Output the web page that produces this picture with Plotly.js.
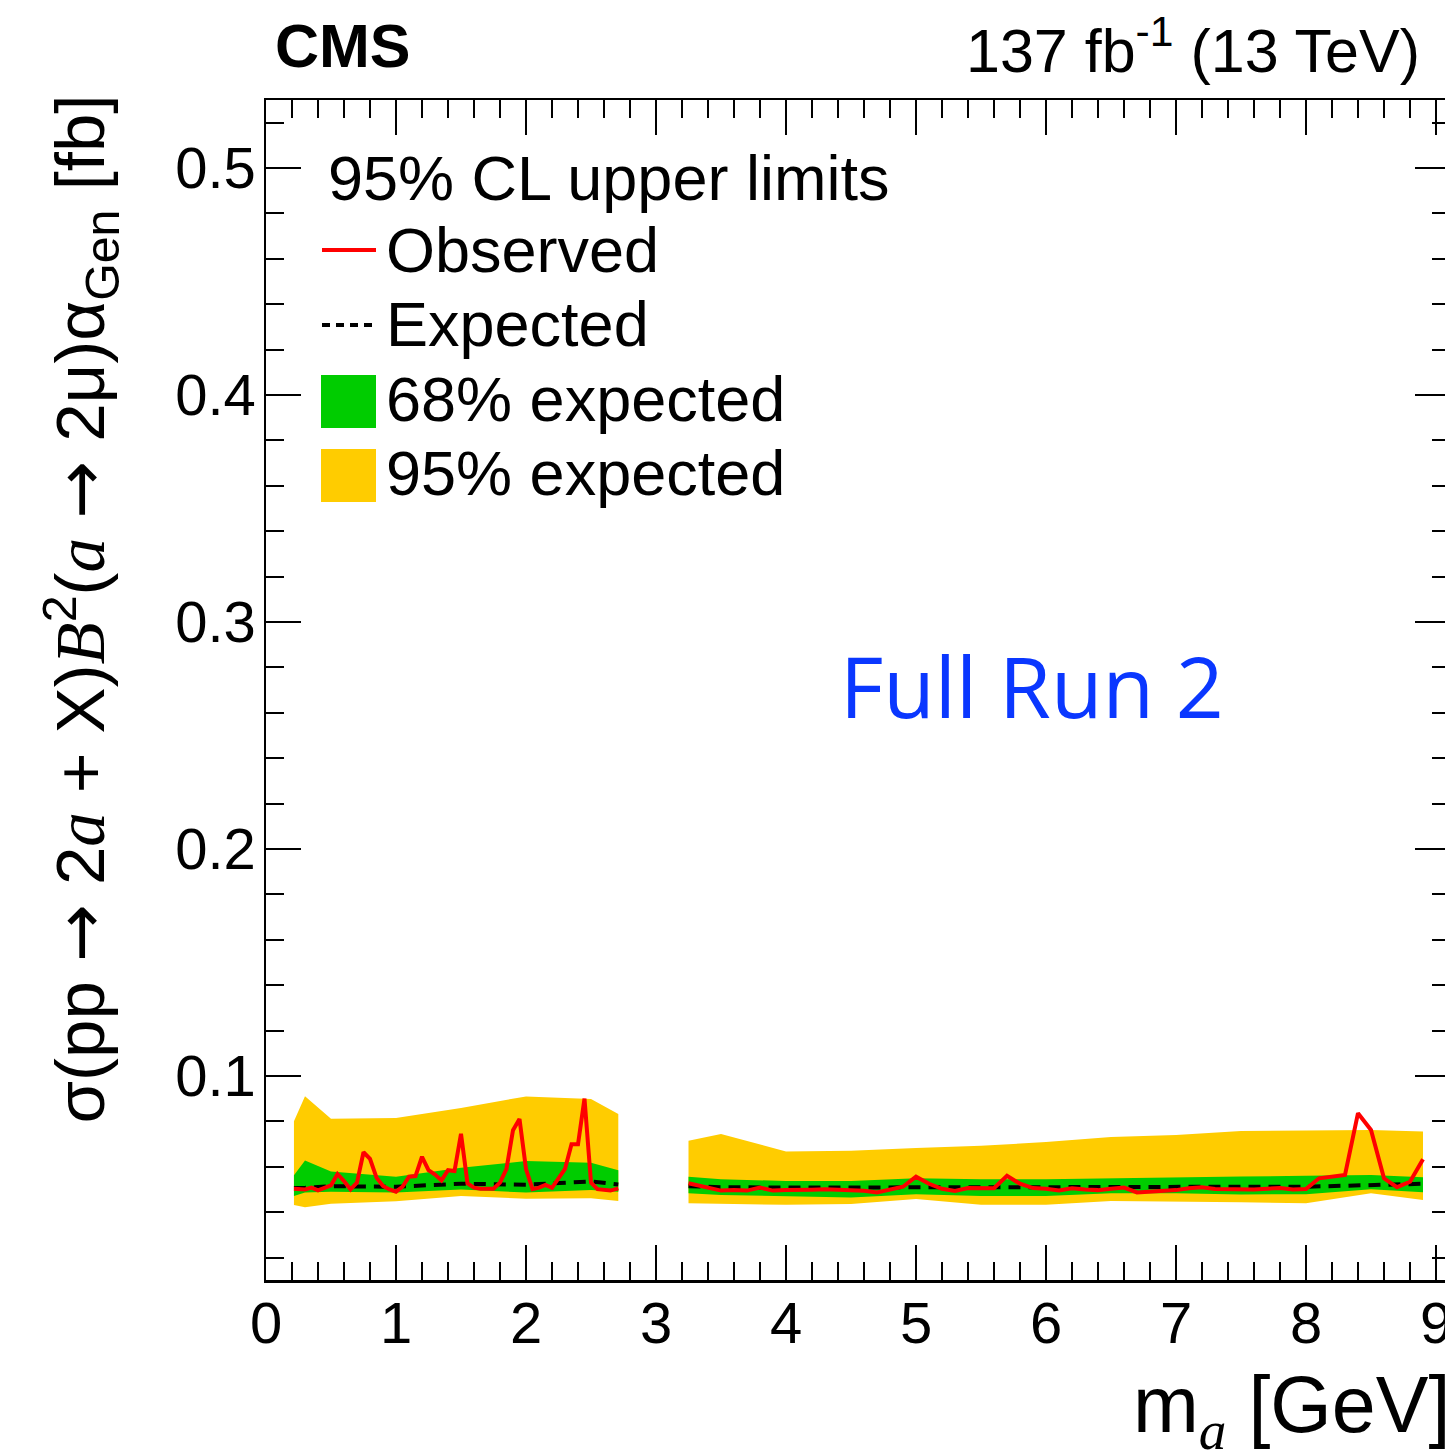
<!DOCTYPE html>
<html>
<head>
<meta charset="utf-8">
<script src="https://cdn.plot.ly/plotly-3.0.1.min.js"></script>
<style>
html,body{margin:0;padding:0;overflow:hidden;background:#fff;}
#chart{width:1460px;height:1452px;}
</style>
</head>
<body>
<div id="chart"></div>
<script>
// ---------- data ----------
// low-mass region: band vertices
const bandMass1 = [0.215, 0.3, 0.5, 1.0, 1.5, 2.0, 2.5, 2.71];
const lo95_1 = [0.0431, 0.0422, 0.0437, 0.0448, 0.0471, 0.0459, 0.0461, 0.0449];
const lo68_1 = [0.0471, 0.0486, 0.0490, 0.0486, 0.0500, 0.0486, 0.0497, 0.0490];
const hi68_1 = [0.0562, 0.0627, 0.0579, 0.0556, 0.0596, 0.0625, 0.0618, 0.0585];
const hi95_1 = [0.0800, 0.0911, 0.0812, 0.0815, 0.0859, 0.0910, 0.0898, 0.0832];
const exp1   = [0.0506, 0.0507, 0.0514, 0.0512, 0.0525, 0.0521, 0.0535, 0.0522];

// high-mass region: band vertices
const bandMass2 = [3.25, 3.5, 4.0, 4.5, 5.0, 5.5, 6.0, 6.5, 7.0, 7.5, 8.0, 8.5, 8.9];
const lo95_2 = [0.0439, 0.0435, 0.0432, 0.0436, 0.0458, 0.0432, 0.0432, 0.0449, 0.0446, 0.0444, 0.0439, 0.0483, 0.0454];
const lo68_2 = [0.0483, 0.0476, 0.0471, 0.0464, 0.0479, 0.0471, 0.0471, 0.0483, 0.0483, 0.0478, 0.0479, 0.0501, 0.0488];
const hi68_2 = [0.0556, 0.0545, 0.0537, 0.0537, 0.0549, 0.0545, 0.0545, 0.0549, 0.0556, 0.0557, 0.0560, 0.0564, 0.0554];
const hi95_2 = [0.0715, 0.0744, 0.0667, 0.0670, 0.0683, 0.0692, 0.0709, 0.0731, 0.0740, 0.0758, 0.0760, 0.0762, 0.0755];
const exp2   = [0.0514, 0.0510, 0.0508, 0.0510, 0.0510, 0.0510, 0.0510, 0.0512, 0.0510, 0.0512, 0.0512, 0.0520, 0.0525];

// observed limits
const obsMass1 = [0.215,0.3,0.35,0.4,0.5,0.55,0.6,0.65,0.7,0.75,0.8,0.85,0.9,0.95,1.0,1.05,1.1,1.15,1.2,1.25,1.3,1.35,1.4,1.45,1.5,1.55,1.6,1.65,1.7,1.75,1.8,1.85,1.9,1.95,2.0,2.05,2.1,2.15,2.2,2.25,2.3,2.35,2.4,2.45,2.5,2.55,2.6,2.65,2.71];
const obs1 = [0.0503,0.0500,0.0508,0.0496,0.0518,0.0568,0.0537,0.0500,0.0530,0.0664,0.0635,0.0552,0.0515,0.0500,0.0490,0.0512,0.0556,0.0559,0.0644,0.0585,0.0566,0.0540,0.0585,0.0581,0.0745,0.0527,0.0508,0.0503,0.0503,0.0503,0.0530,0.0591,0.0761,0.0810,0.0590,0.0501,0.0508,0.0520,0.0507,0.0552,0.0590,0.0699,0.0699,0.0900,0.0530,0.0501,0.0500,0.0495,0.0505];
const obsMass2 = [3.25,3.5,3.6,3.7,3.8,3.9,4.0,4.1,4.2,4.3,4.4,4.5,4.6,4.7,4.8,4.9,5.0,5.1,5.2,5.3,5.4,5.5,5.6,5.7,5.8,5.9,6.0,6.1,6.2,6.3,6.4,6.5,6.6,6.7,6.8,6.9,7.0,7.1,7.2,7.3,7.4,7.5,7.6,7.7,7.8,7.9,8.0,8.1,8.2,8.3,8.4,8.5,8.6,8.7,8.8,8.9];
const obs2 = [0.0527,0.0495,0.0497,0.0495,0.0508,0.0495,0.0497,0.0496,0.0499,0.0501,0.0499,0.0497,0.0494,0.0487,0.0498,0.0512,0.0556,0.0525,0.0503,0.0493,0.0506,0.0505,0.0505,0.0560,0.0525,0.0506,0.0503,0.0495,0.0505,0.0500,0.0497,0.0503,0.0508,0.0487,0.0490,0.0494,0.0497,0.0505,0.0510,0.0502,0.0501,0.0500,0.0500,0.0503,0.0506,0.0500,0.0502,0.0549,0.0556,0.0564,0.0836,0.0762,0.0549,0.0510,0.0534,0.0633];

// labels
const SERIF = '<span style="font-family:\'Liberation Serif\'">';
const ARROW = '<span style="font-family:\'DejaVu Sans\'">→</span>';
const xTitle = 'm<sub>' + SERIF + '<i>a</i></span></sub> [GeV]';
const yTitle = 'σ(pp ' + ARROW + ' 2' + SERIF + '<i>a</i></span> + X)' + SERIF + '<i>B</i></span><sup>2</sup>(' +
               SERIF + '<i>a</i></span> ' + ARROW + ' 2μ)α<sub>Gen</sub> [fb]';
const legendHeader = '95% CL upper limits';
const legendLabels = ['Observed', 'Expected', '68% expected', '95% expected'];

// ---------- styling ----------
const YELLOW = '#FFCC00', GREEN = '#00CC00', RED = '#FF0000';
const FONT = 'Liberation Sans, Arial, Helvetica, sans-serif';

function bandPoly(m, lo, hi) {
  return { x: m.concat(m.slice().reverse()), y: hi.concat(lo.slice().reverse()) };
}
function bandTrace(m, lo, hi, color, name) {
  const p = bandPoly(m, lo, hi);
  return { type: 'scatter', mode: 'lines', x: p.x, y: p.y, fill: 'toself', fillcolor: color,
           line: { width: 0, color: color }, hoverinfo: 'skip', showlegend: false, name: name };
}

const traces = [
  bandTrace(bandMass1, lo95_1, hi95_1, YELLOW, '95% expected'),
  bandTrace(bandMass2, lo95_2, hi95_2, YELLOW, '95% expected'),
  bandTrace(bandMass1, lo68_1, hi68_1, GREEN, '68% expected'),
  bandTrace(bandMass2, lo68_2, hi68_2, GREEN, '68% expected'),
  { type: 'scatter', mode: 'lines', x: bandMass1, y: exp1, line: { color: '#000', width: 4, dash: '12px,8px' }, showlegend: false, name: 'Expected' },
  { type: 'scatter', mode: 'lines', x: bandMass2, y: exp2, line: { color: '#000', width: 4, dash: '12px,8px' }, showlegend: false, name: 'Expected' },
  { type: 'scatter', mode: 'lines', x: obsMass1, y: obs1, line: { color: RED, width: 4 }, showlegend: false, name: 'Observed' },
  { type: 'scatter', mode: 'lines', x: obsMass2, y: obs2, line: { color: RED, width: 4 }, showlegend: false, name: 'Observed' }
];

// page geometry
const W = 1460, H = 1452;
const ML = 266, MR = 10, MT = 100, MB = 172;
const PW = W - ML - MR, PH = H - MT - MB;
const px2p = px => (px - ML) / PW;   // page x -> paper x
const py2p = py => (H - MB - py) / PH; // page y -> paper y

const shapes = [
  { type: 'line', xref: 'paper', yref: 'paper', x0: px2p(322), x1: px2p(376), y0: py2p(250), y1: py2p(250), line: { color: RED, width: 4 } },
  { type: 'line', xref: 'paper', yref: 'paper', x0: px2p(322), x1: px2p(376), y0: py2p(325), y1: py2p(325), line: { color: '#000', width: 4, dash: '8px,6px' } },
  { type: 'rect', xref: 'paper', yref: 'paper', x0: px2p(321), x1: px2p(376), y0: py2p(375), y1: py2p(428), fillcolor: GREEN, line: { width: 0 } },
  { type: 'rect', xref: 'paper', yref: 'paper', x0: px2p(321), x1: px2p(376), y0: py2p(449), y1: py2p(502), fillcolor: YELLOW, line: { width: 0 } }
];

function ann(text, px, py, xanchor, size, extra) {
  return Object.assign({ text: text, xref: 'paper', yref: 'paper', x: px2p(px), y: py2p(py),
    xanchor: xanchor, yanchor: 'middle', showarrow: false,
    font: { family: FONT, size: size, color: '#000' } }, extra || {});
}

const annotations = [
  ann('<b>CMS</b>', 273, 46, 'left', 61),
  ann('137 fb<sup>-1</sup> (13 TeV)', 1422, 46, 'right', 61),
  ann(legendHeader, 326, 178, 'left', 63),
  ann(legendLabels[0], 384, 250, 'left', 63),
  ann(legendLabels[1], 384, 324, 'left', 63),
  ann(legendLabels[2], 384, 399, 'left', 63),
  ann(legendLabels[3], 384, 473, 'left', 63),
  ann('Full Run 2', 1032, 685, 'center', 84, { font: { family: 'Open Sans, Noto Sans, sans-serif', size: 84, color: '#0A37FF' } }),
  ann(xTitle, 1452, 1410, 'right', 79),
  Object.assign(ann(yTitle, 80, 93, 'center', 69), { yanchor: 'top', textangle: -90 })
];

const axisCommon = {
  showgrid: false, zeroline: false, showline: true, linecolor: '#000', linewidth: 2.5,
  mirror: 'allticks', ticks: 'inside', ticklen: 35, tickwidth: 2, tickcolor: '#000',
  tickfont: { family: FONT, size: 58, color: '#000' }
};

const layout = {
  width: W, height: H,
  margin: { l: ML, r: MR, t: MT, b: MB, pad: 0 },
  paper_bgcolor: '#fff', plot_bgcolor: '#fff',
  showlegend: false,
  xaxis: Object.assign({}, axisCommon, {
    range: [0, PW / 130], tickmode: 'linear', tick0: 0, dtick: 1,
    ticklabelstandoff: -9,
    minor: { ticks: 'inside', ticklen: 18, tickwidth: 2, tickcolor: '#000', dtick: 0.2, tick0: 0, showgrid: false }
  }),
  yaxis: Object.assign({}, axisCommon, {
    range: [0.0101, 0.53], tickmode: 'linear', tick0: 0, dtick: 0.1,
    ticklabelstandoff: -4,
    minor: { ticks: 'inside', ticklen: 18, tickwidth: 2, tickcolor: '#000', dtick: 0.02, tick0: 0, showgrid: false }
  }),
  shapes: shapes,
  annotations: annotations
};

Plotly.newPlot('chart', traces, layout, { displayModeBar: false, staticPlot: true });
</script>
</body>
</html>
